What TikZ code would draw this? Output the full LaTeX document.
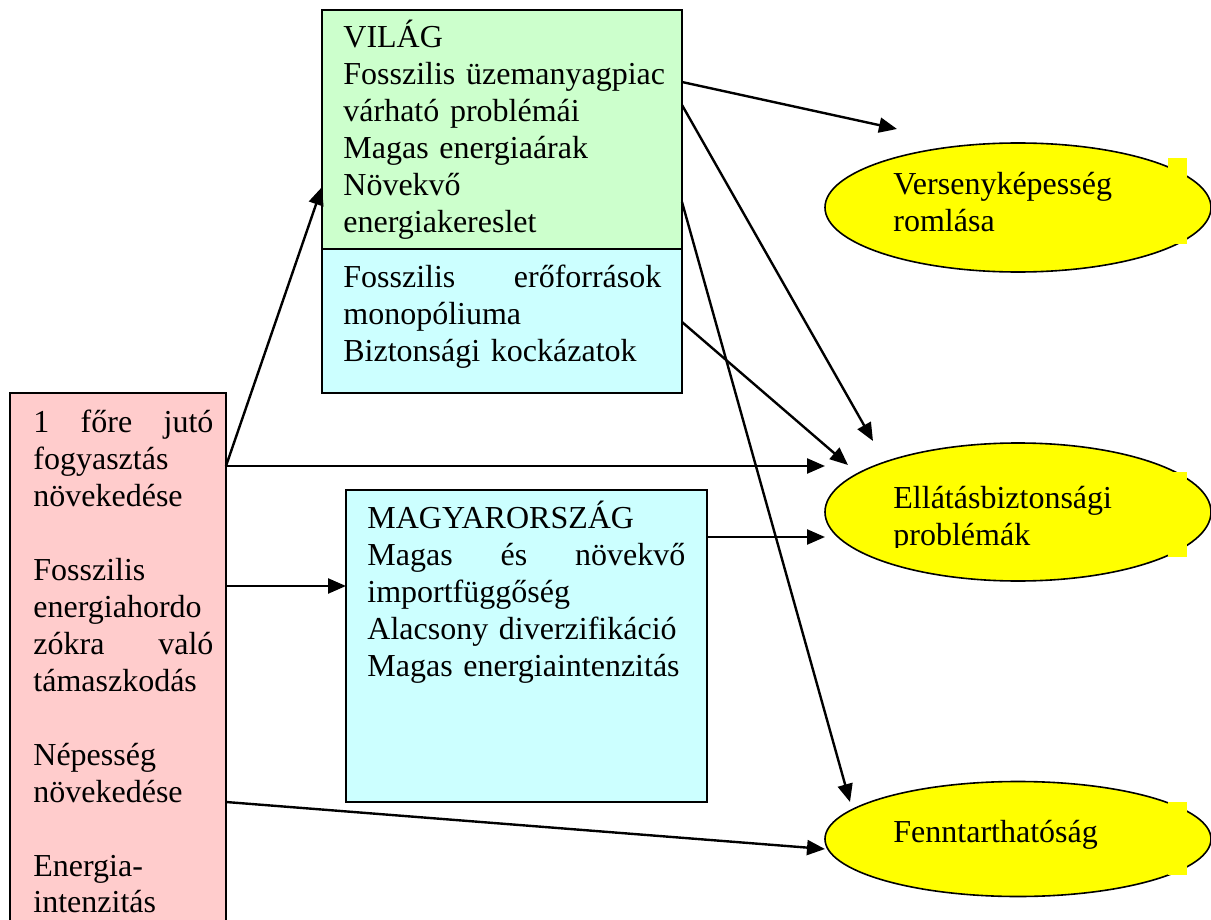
\documentclass[tikz,border=0pt]{standalone}
\usepackage{fontspec}
\setmainfont{Liberation Serif}
\usetikzlibrary{arrows.meta,shapes.geometric,calc}
\definecolor{boxpink}{RGB}{255,204,204}
\definecolor{boxgreen}{RGB}{204,255,204}
\definecolor{boxcyan}{RGB}{204,255,255}
\definecolor{ellyellow}{RGB}{255,255,0}

\begin{document}
\begin{tikzpicture}[x=0.5pt, y=-0.5pt,
  every node/.style={font=\fontsize{16}{18.5}\selectfont},
  box/.style={draw, line width=1pt, inner sep=0pt, outer sep=0pt, anchor=north west},
  txt/.style={inner sep=0pt, anchor=base west, align=left},
  ell/.style={ellipse, draw, line width=0.8pt, fill=ellyellow,
              minimum width=193pt, inner sep=0pt},
  arr/.style={-{Triangle[length=9pt,width=7.5pt]}, line width=1.2pt},
]
  \useasboundingbox (0,0) rectangle (1211,920);
  \node[box, fill=boxpink, minimum width=108pt, minimum height=273.5pt] (pink) at (10,393) {};
  \node[box, fill=boxgreen, minimum width=180pt, minimum height=119.5pt] (vilag) at (322,10) {};
  \node[box, fill=boxcyan, minimum width=180pt, minimum height=72pt] (vilagb) at (322,249) {};
  \node[box, fill=boxcyan, minimum width=180.5pt, minimum height=156pt] (magyar) at (346,490) {};

  \node[txt, text width=90pt] (pinktxt) at (33,432)
    {1\hfill főre\hfill jutó\\fogyasztás\\növekedése\\[18.5pt]
     Fosszilis\\energiahordo\\zókra\hfill való\\támaszkodás\\[18.5pt]
     Népesség\\növekedése\\[18.5pt]
     Energia-\\intenzitás};
  \node[txt, text width=175pt] (vilagtxt) at (343,48)
    {VILÁG\\Fosszilis üzemanyagpiac\\várható problémái\\Magas energiaárak\\Növekvő\\energiakereslet};
  \node[txt, text width=159pt] (vilagbtxt) at (343,287)
    {Fosszilis\hfill erőforrások\\monopóliuma\\Biztonsági kockázatok};
  \node[txt, text width=159pt] (magyartxt) at (367,528)
    {MAGYARORSZÁG\\Magas\hfill és\hfill növekvő\\importfüggőség\\Alacsony diverzifikáció\\Magas energiaintenzitás};

  \node[ell, minimum height=64.5pt] (ell1) at (1018,207.5) {};
  \node[ell, minimum height=69pt] (ell2) at (1018,512) {};
  \node[ell, minimum height=57.5pt] (ell3) at (1018,839) {};
  \fill[ellyellow] (1168,158) rectangle (1187,244);
  \fill[ellyellow] (1168,472) rectangle (1187,557);
  \fill[ellyellow] (1168,802) rectangle (1187,875);
  \node[txt, text width=150pt] (ell1txt) at (893,195) {Versenyképesség\\romlása};
  \begin{scope}
    \clip (820,440) rectangle (1211,547);
    \node[txt, text width=150pt] (ell2txt) at (893,508) {Ellátásbiztonsági\\problémák};
  \end{scope}
  \node[txt, text width=150pt] (ell3txt) at (893,842) {Fenntarthatóság};

  \coordinate (t2) at (825,466);
  \coordinate (t4) at (825,849);
  \coordinate (t5) at (897,129);
  \coordinate (t6) at (873,441);
  \coordinate (t7) at (850,802);
  \coordinate (t8) at (848,465);
  \coordinate (t9) at (825,537);

  \draw[arr] ($(pink.north east)+(0,73)$) -- ($(vilag.north west)+(0,177)$);
  \draw[arr] ($(pink.north east)+(0,73)$) -- (t2);
  \draw[arr] ($(pink.north east)+(0,193)$) -- ($(magyar.north west)+(0,96)$);
  \draw[arr] ($(pink.north east)+(0,409)$) -- (t4);
  \draw[arr] ($(vilag.north east)+(0,72)$) -- (t5);
  \draw[arr] ($(vilag.north east)+(0,95)$) -- (t6);
  \draw[arr] ($(vilag.north east)+(0,192)$) -- (t7);
  \draw[arr] ($(vilagb.north east)+(0,73)$) -- (t8);
  \draw[arr] ($(magyar.north east)+(0,47)$) -- (t9);
\end{tikzpicture}
\end{document}
